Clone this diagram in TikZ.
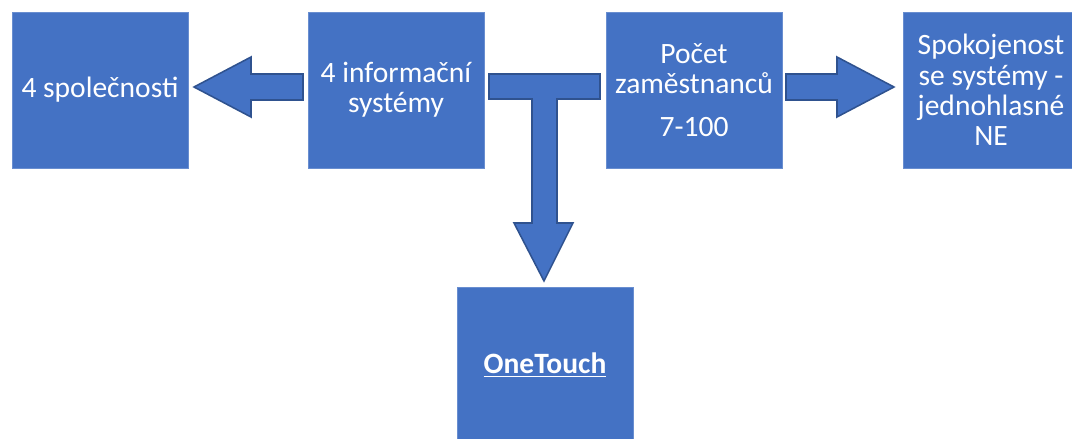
\documentclass[tikz,border=0pt]{standalone}
\usepackage{fontspec}
\setmainfont{Carlito}
\definecolor{boxblue}{HTML}{4472C4}
\definecolor{edgeblue}{HTML}{2F528F}
\tikzset{
  infobox/.style={fill=boxblue, draw=boxblue!80!white, minimum width=4.4cm,
    minimum height=3.9cm, inner sep=0pt, text=white, align=center,
    font=\fontsize{21}{21.5}\selectfont},
  blockarrow/.style={fill=boxblue, draw=edgeblue, line width=1.1pt, line join=miter}
}
\begin{document}
\begin{tikzpicture}[x=0.025cm,y=-0.025cm]
\useasboundingbox (0,0) rectangle (1072,439);
% boxes
\node[infobox] (firms) at (100,90) {4 společnosti};
\node[infobox] (systems) at (396,90) {4 informační\\systémy};
\node[infobox] (staff) at (694,90) {Počet\\zaměstnanců\\[9pt]7-100};
\node[infobox] (satisf) at (991,90) {Spokojenost\\se systémy -\\jednohlasné\\NE};
\node[infobox] (onetouch) at (545,365) {\textbf{\underline{OneTouch}}};
% arrows
\draw[blockarrow] (303,74) -- (251,74) -- (251,57) -- (194,87) -- (251,117)
  -- (251,100) -- (303,100) -- cycle;
\draw[blockarrow] (786,74) -- (837,74) -- (837,57) -- (894,87) -- (837,117)
  -- (837,100) -- (786,100) -- cycle;
\draw[blockarrow] (489,74) -- (600,74) -- (600,99) -- (557,99) -- (557,223)
  -- (573,223) -- (544,281) -- (514,223) -- (532,223) -- (532,99) -- (489,99) -- cycle;
\end{tikzpicture}
\end{document}
